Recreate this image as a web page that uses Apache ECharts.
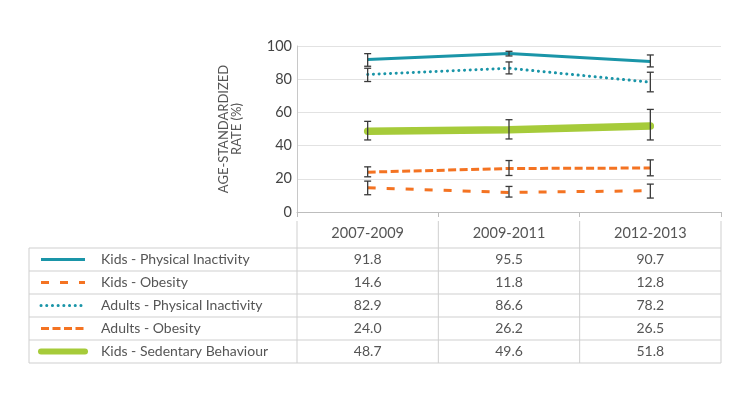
<!DOCTYPE html>
<html><head><meta charset="utf-8">
<script src="https://cdn.jsdelivr.net/npm/echarts@6/dist/echarts.min.js"></script>
<style>html,body{margin:0;padding:0;background:#fff}#c{width:750px;height:404px}</style>
</head><body><div id="c"></div>
<script>
// ---- data ----
const categories = ['2007-2009', '2009-2011', '2012-2013'];
const seriesNames = ['Kids - Physical Inactivity', 'Kids - Obesity', 'Adults - Physical Inactivity', 'Adults - Obesity', 'Kids - Sedentary Behaviour'];
const kidsPhysicalInactivity = [91.8, 95.5, 90.7];
const kidsObesity = [14.6, 11.8, 12.8];
const adultsPhysicalInactivity = [82.9, 86.6, 78.2];
const adultsObesity = [24.0, 26.2, 26.5];
const kidsSedentary = [48.7, 49.6, 51.8];
// confidence intervals [low, high]
const kidsPhysicalInactivityCI = [[87.8, 95.4], [94.0, 96.8], [87.4, 94.6]];
const kidsObesityCI = [[10.4, 18.6], [9.0, 15.4], [8.4, 16.8]];
const adultsPhysicalInactivityCI = [[78.6, 86.6], [83.2, 90.4], [72.4, 84.2]];
const adultsObesityCI = [[21.2, 27.2], [22.0, 31.0], [21.8, 31.4]];
const kidsSedentaryCI = [[43.4, 54.6], [44.0, 55.6], [43.4, 61.8]];
const yMin = 0, yMax = 100, yInterval = 20;

// ---- styles ----
const TEAL = '#1a95a8', ORANGE = '#f47322', GREEN = '#a6cb3a';
const FONT = 'Lato';
const styles = [
  { color: TEAL, width: 3, type: 'solid', cap: 'butt' },
  { color: ORANGE, width: 3, type: [8, 11], cap: 'butt' },
  { color: TEAL, width: 3, type: [0.1, 5.6], cap: 'round' },
  { color: ORANGE, width: 3, type: [8, 3.5], cap: 'butt' },
  { color: GREEN, width: 7.5, type: 'solid', cap: 'round' }
];
const values = [kidsPhysicalInactivity, kidsObesity, adultsPhysicalInactivity, adultsObesity, kidsSedentary];
const cis = [kidsPhysicalInactivityCI, kidsObesityCI, adultsPhysicalInactivityCI, adultsObesityCI, kidsSedentaryCI];

const GL = 297, GR = 721, GT = 46, GB = 212;
const TL = 29, HEAD_TOP = 221, BODY_TOP = 248, ROW_H = 23;

function errorSeries(ci, name) {
  return {
    type: 'custom', name: name + ' CI', z: 10, silent: true,
    data: ci.map((d, i) => [i, d[0], d[1]]),
    encode: { x: 0, y: [1, 2] },
    renderItem(params, api) {
      const x = api.value(0);
      const lo = api.coord([x, api.value(1)]);
      const hi = api.coord([x, api.value(2)]);
      const w = 3.5;
      const style = { stroke: '#3a3a3a', lineWidth: 1.3 };
      return { type: 'group', children: [
        { type: 'line', shape: { x1: hi[0], y1: hi[1], x2: lo[0], y2: lo[1] }, style },
        { type: 'line', shape: { x1: hi[0] - w, y1: hi[1], x2: hi[0] + w, y2: hi[1] }, style },
        { type: 'line', shape: { x1: lo[0] - w, y1: lo[1], x2: lo[0] + w, y2: lo[1] }, style }
      ] };
    }
  };
}

const lineOrder = [0, 2, 3, 1, 4];
const series = [];
lineOrder.forEach(k => {
  const s = styles[k];
  series.push({
    type: 'line', name: seriesNames[k], data: values[k], symbol: 'none', silent: true,
    z: k === 4 ? 3 : 2,
    lineStyle: { color: s.color, width: s.width, type: s.type, cap: s.cap }
  });
});
cis.forEach((ci, k) => series.push(errorSeries(ci, seriesNames[k])));

// ---- table graphics ----
const colW = (GR - GL) / categories.length;
const gfx = [];
const border = '#cfcfcf';
const bottom = BODY_TOP + ROW_H * seriesNames.length;
for (let r = 0; r <= seriesNames.length; r++) {
  const y = BODY_TOP + r * ROW_H;
  gfx.push({ type: 'line', shape: { x1: TL, y1: y, x2: GR, y2: y }, style: { stroke: border, lineWidth: 1 } });
}
gfx.push({ type: 'line', shape: { x1: TL, y1: BODY_TOP, x2: TL, y2: bottom }, style: { stroke: border, lineWidth: 1 } });
for (let c = 0; c <= categories.length; c++) {
  const x = GL + c * colW;
  gfx.push({ type: 'line', shape: { x1: x, y1: HEAD_TOP, x2: x, y2: bottom }, style: { stroke: border, lineWidth: 1 } });
}
seriesNames.forEach((name, r) => {
  const yc = BODY_TOP + r * ROW_H + ROW_H / 2;
  const s = styles[r];
  gfx.push({ type: 'line', shape: { x1: 41, y1: yc, x2: 85, y2: yc },
    style: { stroke: s.color, lineWidth: s.width > 5 ? 6 : 3, lineDash: Array.isArray(s.type) ? s.type : null, lineCap: s.cap } });
  gfx.push({ type: 'text', x: 101, y: yc, style: { text: name, fill: '#555', font: '14px ' + FONT, textVerticalAlign: 'middle', textAlign: 'left' } });
  values[r].forEach((v, c) => {
    gfx.push({ type: 'text', x: GL + (c + 0.5) * colW, y: yc, style: { text: v.toFixed(1), fill: '#555', font: '14px ' + FONT, textVerticalAlign: 'middle', textAlign: 'center' } });
  });
});

const chart = echarts.init(document.getElementById('c'), null, { renderer: 'canvas' });
chart.setOption({
  animation: false,
  backgroundColor: '#fff',
  textStyle: { fontFamily: FONT },
  grid: { left: GL, right: 750 - GR, top: GT, bottom: 404 - GB, containLabel: false },
  xAxis: {
    type: 'category', data: categories, boundaryGap: true,
    axisLine: { show: true, lineStyle: { color: '#bdbdbd', width: 1 } },
    axisTick: { show: true, length: 5, lineStyle: { color: '#bdbdbd' } },
    axisLabel: { show: true, margin: 14, color: '#555', fontSize: 14.5, fontFamily: FONT },
    splitLine: { show: false }
  },
  yAxis: {
    type: 'value', min: yMin, max: yMax, interval: yInterval,
    name: 'AGE-STANDARDIZED\nRATE (%)', nameLocation: 'middle', nameGap: 54, nameRotate: 90,
    nameTextStyle: { color: '#555', fontSize: 13, fontFamily: FONT, lineHeight: 13, align: 'center' },
    axisLine: { show: true, lineStyle: { color: '#c8c8c8', width: 1 } },
    axisTick: { show: false },
    axisLabel: { color: '#444', fontSize: 14.5, margin: 5, fontFamily: FONT },
    splitLine: { show: true, lineStyle: { color: '#e2e2e2', width: 1 } }
  },
  series,
  graphic: gfx
});
</script></body></html>
